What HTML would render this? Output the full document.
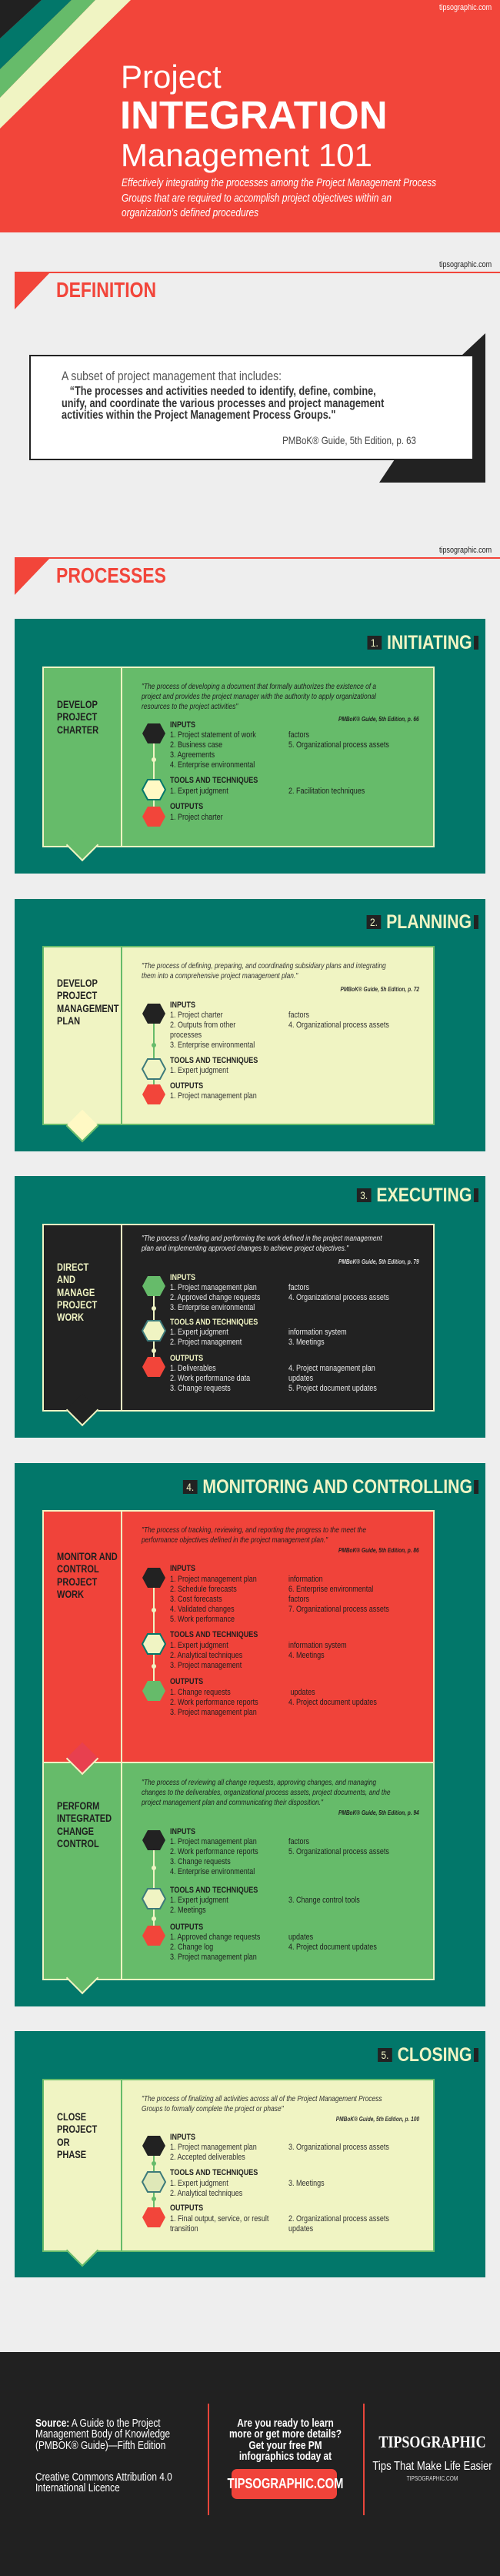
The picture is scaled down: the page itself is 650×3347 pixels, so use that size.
<!DOCTYPE html>
<html><head><meta charset="utf-8">
<style>
*{box-sizing:border-box;margin:0;padding:0}
body{width:650px;height:3347px;background:#eeeeee;position:relative;overflow:hidden;font-family:"Liberation Sans Narrow","Liberation Sans",sans-serif}
.a{position:absolute;white-space:nowrap}
.s{transform:scaleX(.82);transform-origin:0 0}
.sr{transform:scaleX(.82);transform-origin:100% 0}
.sc{transform:scaleX(.82);transform-origin:50% 0}
.teal{position:absolute;left:19px;width:612px;background:#02776a}
.card{position:absolute;left:55px;width:510px;border:2px solid #f0f4c3}
.div{position:absolute;left:157px;width:2px}
.ttl{position:absolute;right:28px;display:flex;align-items:center;height:24px;transform:scaleX(.85);transform-origin:100% 0}
.ttl .n{background:#222;color:#f0f4c3;font-size:14px;width:22px;height:18px;line-height:18px;text-align:center;margin-right:8px}
.ttl .t{color:#f0f4c3;font-weight:bold;font-size:25px;line-height:24px}
.ttl .b{width:7px;height:18px;background:#222;margin-left:3px}
.q{font-style:italic;font-size:10.5px;line-height:13px;transform:scaleX(.8);transform-origin:0 0}
.c{font-style:italic;font-size:8px;font-weight:bold;right:105px;transform:scaleX(.82);transform-origin:100% 0}
.lt{left:74px;font-weight:bold;font-size:13.5px;line-height:16.3px;transform:scaleX(.82);transform-origin:0 0}
.lb{left:221px;font-weight:bold;font-size:11px;line-height:13px;transform:scaleX(.82);transform-origin:0 0}
.it{left:221px;font-size:11px;line-height:13px;transform:scaleX(.82);transform-origin:0 0}
.it2{left:375px;font-size:11px;line-height:13px;transform:scaleX(.82);transform-origin:0 0}
.ptr{position:absolute;width:30px;height:30px;transform:rotate(45deg)}
.ln{position:absolute;left:199px;width:2px}
.dot{position:absolute;left:197px;width:6px;height:6px;border-radius:3px}
</style></head><body>

<!-- HEADER -->
<div class="a" style="left:0;top:0;width:650px;height:302px;background:#f2453a"></div>
<svg class="a" style="left:0;top:0" width="180" height="180">
<polygon points="0,0 54,0 0,50" fill="#212121"/>
<polygon points="54,0 93,0 0,90 0,50" fill="#02776a"/>
<polygon points="93,0 124,0 0,127 0,90" fill="#66bb6a"/>
<polygon points="124,0 170,0 0,167 0,127" fill="#f0f4c3"/>
</svg>
<div class="a sr" style="right:11px;top:4px;color:#fff;font-size:11px">tipsographic.com</div>
<div class="a" style="left:157px;top:78px;color:#fff;font-family:'Liberation Sans',sans-serif;font-size:42px;line-height:44px">Project</div>
<div class="a" style="left:156px;top:124px;color:#fff;font-family:'Liberation Sans',sans-serif;font-weight:bold;font-size:51px;line-height:52px">INTEGRATION</div>
<div class="a" style="left:157px;top:180px;color:#fff;font-family:'Liberation Sans',sans-serif;font-size:42px;line-height:44px">Management 101</div>
<div class="a s" style="left:158px;top:229px;color:#fff;font-style:italic;font-size:14.5px;line-height:19.5px">Effectively integrating the processes among the Project Management Process<br>Groups that are required to accomplish project objectives within an<br>organization's defined procedures</div>

<!-- DEFINITION -->
<div class="a sr" style="right:11px;top:338px;color:#222;font-size:11px">tipsographic.com</div>
<div class="a" style="left:19px;top:353px;width:631px;height:2px;background:#f2453a"></div>
<svg class="a" style="left:19px;top:353px" width="50" height="50"><polygon points="0,0 47,0 0,49" fill="#f2453a"/></svg>
<div class="a s" style="left:73px;top:362px;color:#f2453a;font-weight:bold;font-size:28px;line-height:30px">DEFINITION</div>
<svg class="a" style="left:480px;top:430px" width="160" height="200"><polygon points="120,32 151,3 151,197 13,197 33,167" fill="#222"/></svg>
<div class="a" style="left:38px;top:461px;width:578px;height:137px;background:#fff;border:2px solid #222"></div>
<div class="a s" style="left:80px;top:479px;color:#555;font-size:17px;line-height:20px">A subset of project management that includes:</div>
<div class="a s" style="left:80px;top:501px;color:#333;font-weight:bold;font-size:15.5px;line-height:15.7px">&nbsp;&nbsp;&nbsp;“The processes and activities needed to identify, define, combine,<br>unify, and coordinate the various processes and project management<br>activities within the Project Management Process Groups."</div>
<div class="a sr" style="right:109px;top:564px;color:#444;font-size:14px">PMBoK® Guide, 5th Edition, p. 63</div>

<!-- PROCESSES -->
<div class="a sr" style="right:11px;top:709px;color:#222;font-size:11px">tipsographic.com</div>
<div class="a" style="left:19px;top:724px;width:631px;height:2px;background:#f2453a"></div>
<svg class="a" style="left:19px;top:724px" width="50" height="50"><polygon points="0,0 47,0 0,49" fill="#f2453a"/></svg>
<div class="a s" style="left:73px;top:733px;color:#f2453a;font-weight:bold;font-size:28px;line-height:30px">PROCESSES</div>

<!-- 1 INITIATING -->
<div class="teal" style="top:804px;height:331px"></div>
<div class="ttl" style="top:823px"><span class="n">1.</span><span class="t">INITIATING</span><span class="b"></span></div>
<div class="card" style="top:866px;height:235px;background:#66bb6a"></div>
<div class="div" style="top:866px;height:235px;background:#f0f4c3"></div>
<div class="ptr" style="left:92px;top:1083px;background:#66bb6a;border-right:2px solid #f0f4c3;border-bottom:2px solid #f0f4c3"></div>
<div class="a lt" style="top:908px;color:#1e1e1e">DEVELOP<br>PROJECT<br>CHARTER</div>
<div class="a q" style="left:184px;top:886px;color:#1e1e1e">"The  process of developing a document that formally authorizes the existence of a<br>project and provides the project manager with the authority to apply organizational<br>resources to the project activities"</div>
<div class="a c" style="top:930px;color:#1e1e1e">PMBoK® Guide, 5th Edition, p. 66</div>
<div class="ln" style="top:953px;height:108px;background:#f0f4c3"></div>
<div class="dot" style="top:984px;background:#f0f4c3"></div>
<svg class="a" style="left:184px;top:939px" width="32" height="28"><polygon points="8,1 24,1 31,14 24,27 8,27 1,14" fill="#222"/></svg>
<svg class="a" style="left:184px;top:1012px" width="32" height="28"><polygon points="8,1 24,1 31,14 24,27 8,27 1,14" fill="#fff9c4" stroke="#02776a" stroke-width="2"/></svg>
<svg class="a" style="left:184px;top:1047px" width="32" height="28"><polygon points="8,1 24,1 31,14 24,27 8,27 1,14" fill="#f2453a"/></svg>
<div class="a lb" style="top:936px;color:#1e1e1e">INPUTS</div>
<div class="a it" style="top:949px;color:#1e1e1e">1. Project statement of work<br>2. Business case<br>3. Agreements<br>4. Enterprise environmental</div>
<div class="a it2" style="top:949px;color:#1e1e1e">factors<br>5. Organizational process assets</div>
<div class="a lb" style="top:1008px;color:#1e1e1e">TOOLS AND TECHNIQUES</div>
<div class="a it" style="top:1022px;color:#1e1e1e">1. Expert judgment</div>
<div class="a it2" style="top:1022px;color:#1e1e1e">2. Facilitation techniques</div>
<div class="a lb" style="top:1042px;color:#1e1e1e">OUTPUTS</div>
<div class="a it" style="top:1056px;color:#1e1e1e">1. Project charter</div>

<!-- 2 PLANNING -->
<div class="teal" style="top:1168px;height:328px"></div>
<div class="ttl" style="top:1186px"><span class="n">2.</span><span class="t">PLANNING</span><span class="b"></span></div>
<div class="card" style="top:1229px;height:233px;background:#f0f4c3;border-color:#66bb6a"></div>
<div class="div" style="top:1229px;height:233px;background:#66bb6a"></div>
<div class="ptr" style="left:92px;top:1448px;background:#fff9c4;border-right:2px solid #66bb6a;border-bottom:2px solid #66bb6a"></div>
<div class="a lt" style="top:1270px;color:#222">DEVELOP<br>PROJECT<br>MANAGEMENT<br>PLAN</div>
<div class="a q" style="left:184px;top:1249px;color:#333">"The process of defining, preparing, and coordinating subsidiary plans and integrating<br>them into a comprehensive project management plan."</div>
<div class="a c" style="top:1281px;color:#333">PMBoK® Guide, 5h Edition, p. 72</div>
<div class="ln" style="top:1317px;height:105px;background:#66bb6a"></div>
<div class="dot" style="top:1355px;background:#66bb6a"></div>
<svg class="a" style="left:184px;top:1303px" width="32" height="28"><polygon points="8,1 24,1 31,14 24,27 8,27 1,14" fill="#222"/></svg>
<svg class="a" style="left:184px;top:1375px" width="32" height="28"><polygon points="8,1 24,1 31,14 24,27 8,27 1,14" fill="#f0f4c3" stroke="#3d7a7a" stroke-width="2"/></svg>
<svg class="a" style="left:184px;top:1408px" width="32" height="28"><polygon points="8,1 24,1 31,14 24,27 8,27 1,14" fill="#f2453a"/></svg>
<div class="a lb" style="top:1300px;color:#222">INPUTS</div>
<div class="a it" style="top:1313px;color:#333">1. Project charter<br>2. Outputs from other<br>processes<br>3. Enterprise environmental</div>
<div class="a it2" style="top:1313px;color:#333">factors<br>4. Organizational process assets</div>
<div class="a lb" style="top:1372px;color:#222">TOOLS AND TECHNIQUES</div>
<div class="a it" style="top:1385px;color:#333">1. Expert judgment</div>
<div class="a lb" style="top:1405px;color:#222">OUTPUTS</div>
<div class="a it" style="top:1418px;color:#333">1. Project management plan</div>

<!-- 3 EXECUTING -->
<div class="teal" style="top:1528px;height:340px"></div>
<div class="ttl" style="top:1541px"><span class="n">3.</span><span class="t">EXECUTING</span><span class="b"></span></div>
<div class="card" style="top:1590px;height:244px;background:#222"></div>
<div class="div" style="top:1590px;height:244px;background:#f0f4c3"></div>
<div class="ptr" style="left:92px;top:1817px;background:#222;border-right:2px solid #f0f4c3;border-bottom:2px solid #f0f4c3"></div>
<div class="a lt" style="top:1639px;color:#f0f4c3">DIRECT<br>AND<br>MANAGE<br>PROJECT<br>WORK</div>
<div class="a q" style="left:184px;top:1603px;color:#eee">"The process of leading and performing the work defined in the project management<br>plan and implementing approved changes to achieve project objectives."</div>
<div class="a c" style="top:1635px;color:#ddd">PMBoK® Guide, 5th Edition, p. 79</div>
<div class="ln" style="top:1671px;height:105px;background:#f0f4c3"></div>
<div class="dot" style="top:1697px;background:#f0f4c3"></div>
<div class="dot" style="top:1752px;background:#f0f4c3"></div>
<svg class="a" style="left:184px;top:1657px" width="32" height="28"><polygon points="8,1 24,1 31,14 24,27 8,27 1,14" fill="#66bb6a"/></svg>
<svg class="a" style="left:184px;top:1715px" width="32" height="28"><polygon points="8,1 24,1 31,14 24,27 8,27 1,14" fill="#f0f4c3" stroke="#3d7a7a" stroke-width="2"/></svg>
<svg class="a" style="left:184px;top:1762px" width="32" height="28"><polygon points="8,1 24,1 31,14 24,27 8,27 1,14" fill="#f2453a"/></svg>
<div class="a lb" style="top:1654px;color:#f0f4c3">INPUTS</div>
<div class="a it" style="top:1667px;color:#e8e8e8">1. Project management plan<br>2. Approved change requests<br>3. Enterprise environmental</div>
<div class="a it2" style="top:1667px;color:#e8e8e8">factors<br>4. Organizational process assets</div>
<div class="a lb" style="top:1712px;color:#f0f4c3">TOOLS AND TECHNIQUES</div>
<div class="a it" style="top:1725px;color:#e8e8e8">1. Expert judgment<br>2. Project management</div>
<div class="a it2" style="top:1725px;color:#e8e8e8">information system<br>3. Meetings</div>
<div class="a lb" style="top:1759px;color:#f0f4c3">OUTPUTS</div>
<div class="a it" style="top:1772px;color:#e8e8e8">1. Deliverables<br>2. Work performance data<br>3. Change requests</div>
<div class="a it2" style="top:1772px;color:#e8e8e8">4. Project management plan<br>updates<br>5. Project document updates</div>

<!-- 4 MONITORING -->
<div class="teal" style="top:1901px;height:706px"></div>
<div class="ttl" style="top:1920px"><span class="n">4.</span><span class="t">MONITORING AND CONTROLLING</span><span class="b"></span></div>
<div class="card" style="top:1962px;height:329px;background:#f0433a"></div>
<div class="div" style="top:1962px;height:329px;background:#f0f4c3"></div>
<div class="card" style="top:2289px;height:284px;background:#66bb6a"></div>
<div class="div" style="top:2289px;height:284px;background:#f0f4c3"></div>
<div class="ptr" style="left:92px;top:2270px;background:#e8404f;border-right:2px solid #f0f4c3;border-bottom:2px solid #f0f4c3"></div>
<div class="ptr" style="left:92px;top:2555px;background:#66bb6a;border-right:2px solid #f0f4c3;border-bottom:2px solid #f0f4c3"></div>

<div class="a lt" style="top:2015px;color:#1e1e1e">MONITOR AND<br>CONTROL<br>PROJECT<br>WORK</div>
<div class="a q" style="left:184px;top:1982px;color:#1e1e1e">"The process of tracking, reviewing, and reporting the progress to the meet the<br>performance objectives defined in the project management plan."</div>
<div class="a c" style="top:2010px;color:#1e1e1e">PMBoK® Guide, 5th Edition, p. 86</div>
<div class="ln" style="top:2050px;height:147px;background:#f0f4c3"></div>
<div class="dot" style="top:2089px;background:#f0f4c3"></div>
<div class="dot" style="top:2162px;background:#f0f4c3"></div>
<svg class="a" style="left:184px;top:2036px" width="32" height="28"><polygon points="8,1 24,1 31,14 24,27 8,27 1,14" fill="#222"/></svg>
<svg class="a" style="left:184px;top:2122px" width="32" height="28"><polygon points="8,1 24,1 31,14 24,27 8,27 1,14" fill="#f0f4c3" stroke="#02776a" stroke-width="2"/></svg>
<svg class="a" style="left:184px;top:2183px" width="32" height="28"><polygon points="8,1 24,1 31,14 24,27 8,27 1,14" fill="#66bb6a"/></svg>
<div class="a lb" style="top:2032px;color:#1e1e1e">INPUTS</div>
<div class="a it" style="top:2046px;color:#1e1e1e">1. Project management plan<br>2. Schedule forecasts<br>3. Cost forecasts<br>4. Validated changes<br>5. Work performance</div>
<div class="a it2" style="top:2046px;color:#1e1e1e">information<br>6. Enterprise environmental<br>factors<br>7. Organizational process assets</div>
<div class="a lb" style="top:2118px;color:#1e1e1e">TOOLS AND TECHNIQUES</div>
<div class="a it" style="top:2132px;color:#1e1e1e">1. Expert judgment<br>2. Analytical techniques<br>3. Project management</div>
<div class="a it2" style="top:2132px;color:#1e1e1e">information system<br>4. Meetings</div>
<div class="a lb" style="top:2179px;color:#1e1e1e">OUTPUTS</div>
<div class="a it" style="top:2193px;color:#1e1e1e">1. Change requests<br>2. Work performance reports<br>3. Project management plan</div>
<div class="a it2" style="top:2193px;color:#1e1e1e">&nbsp;updates<br>4. Project document updates</div>

<div class="a lt" style="top:2339px;color:#1e1e1e">PERFORM<br>INTEGRATED<br>CHANGE<br>CONTROL</div>
<div class="a q" style="left:184px;top:2310px;color:#1e1e1e">"The process of reviewing all change requests, approving changes, and managing<br>changes to the deliverables, organizational process assets, project documents, and the<br>project management plan and communicating their disposition."</div>
<div class="a c" style="top:2351px;color:#1e1e1e">PMBoK® Guide, 5th Edition, p. 94</div>
<div class="ln" style="top:2391px;height:124px;background:#f0f4c3"></div>
<div class="dot" style="top:2424px;background:#f0f4c3"></div>
<div class="dot" style="top:2490px;background:#f0f4c3"></div>
<svg class="a" style="left:184px;top:2377px" width="32" height="28"><polygon points="8,1 24,1 31,14 24,27 8,27 1,14" fill="#222"/></svg>
<svg class="a" style="left:184px;top:2453px" width="32" height="28"><polygon points="8,1 24,1 31,14 24,27 8,27 1,14" fill="#f0f4c3" stroke="#3d7a7a" stroke-width="2"/></svg>
<svg class="a" style="left:184px;top:2501px" width="32" height="28"><polygon points="8,1 24,1 31,14 24,27 8,27 1,14" fill="#f2453a"/></svg>
<div class="a lb" style="top:2374px;color:#1e1e1e">INPUTS</div>
<div class="a it" style="top:2387px;color:#1e1e1e">1. Project management plan<br>2. Work performance reports<br>3. Change requests<br>4. Enterprise environmental</div>
<div class="a it2" style="top:2387px;color:#1e1e1e">factors<br>5. Organizational process assets</div>
<div class="a lb" style="top:2450px;color:#1e1e1e">TOOLS AND TECHNIQUES</div>
<div class="a it" style="top:2463px;color:#1e1e1e">1. Expert judgment<br>2. Meetings</div>
<div class="a it2" style="top:2463px;color:#1e1e1e">3. Change control tools</div>
<div class="a lb" style="top:2498px;color:#1e1e1e">OUTPUTS</div>
<div class="a it" style="top:2511px;color:#1e1e1e">1. Approved change requests<br>2. Change log<br>3. Project management plan</div>
<div class="a it2" style="top:2511px;color:#1e1e1e">updates<br>4. Project document updates</div>

<!-- 5 CLOSING -->
<div class="teal" style="top:2639px;height:320px"></div>
<div class="ttl" style="top:2658px"><span class="n">5.</span><span class="t">CLOSING</span><span class="b"></span></div>
<div class="card" style="top:2701px;height:225px;background:#f0f4c3;border-color:#66bb6a"></div>
<div class="div" style="top:2701px;height:225px;background:#66bb6a"></div>
<div class="ptr" style="left:92px;top:2909px;background:#f0f4c3;border-right:2px solid #66bb6a;border-bottom:2px solid #66bb6a"></div>
<div class="a lt" style="top:2743px;color:#222">CLOSE<br>PROJECT<br>OR<br>PHASE</div>
<div class="a q" style="left:184px;top:2721px;color:#333">"The process of finalizing all activities across all of the Project Management Process<br>Groups to formally complete the project or phase"</div>
<div class="a c" style="top:2749px;color:#333">PMBoK® Guide, 5th Edition, p. 100</div>
<div class="ln" style="top:2788px;height:93px;background:#66bb6a"></div>
<div class="dot" style="top:2808px;background:#66bb6a"></div>
<div class="dot" style="top:2854px;background:#66bb6a"></div>
<svg class="a" style="left:184px;top:2774px" width="32" height="28"><polygon points="8,1 24,1 31,14 24,27 8,27 1,14" fill="#222"/></svg>
<svg class="a" style="left:184px;top:2821px" width="32" height="28"><polygon points="8,1 24,1 31,14 24,27 8,27 1,14" fill="#dfe8b8" stroke="#3d7a7a" stroke-width="2"/></svg>
<svg class="a" style="left:184px;top:2867px" width="32" height="28"><polygon points="8,1 24,1 31,14 24,27 8,27 1,14" fill="#f2453a"/></svg>
<div class="a lb" style="top:2771px;color:#222">INPUTS</div>
<div class="a it" style="top:2784px;color:#333">1. Project management plan<br>2. Accepted deliverables</div>
<div class="a it2" style="top:2784px;color:#333">3. Organizational process assets</div>
<div class="a lb" style="top:2817px;color:#222">TOOLS AND TECHNIQUES</div>
<div class="a it" style="top:2831px;color:#333">1. Expert judgment<br>2. Analytical techniques</div>
<div class="a it2" style="top:2831px;color:#333">3. Meetings</div>
<div class="a lb" style="top:2863px;color:#222">OUTPUTS</div>
<div class="a it" style="top:2877px;color:#333">1. Final output, service, or result<br>transition</div>
<div class="a it2" style="top:2877px;color:#333">2. Organizational process assets<br>updates</div>

<!-- FOOTER -->
<div class="a" style="left:0;top:3056px;width:650px;height:291px;background:#212121"></div>
<div class="a" style="left:270px;top:3123px;width:2px;height:145px;background:#e8453a"></div>
<div class="a" style="left:472px;top:3123px;width:2px;height:145px;background:#e8453a"></div>
<div class="a s" style="left:46px;top:3142px;color:#fff;font-size:14.5px;line-height:14.3px"><b>Source:</b> A Guide to the Project<br>Management Body of Knowledge<br>(PMBOK® Guide)—Fifth Edition</div>
<div class="a s" style="left:46px;top:3212px;color:#fff;font-size:14.5px;line-height:14.3px">Creative Commons Attribution 4.0<br>International Licence</div>
<div class="a sc" style="left:271px;width:200px;top:3142px;color:#fff;font-weight:bold;font-size:14.5px;line-height:14.3px;text-align:center">Are you ready to learn<br>more or get more details?<br>Get your free PM<br>infographics today at</div>
<div class="a" style="left:301px;top:3208px;width:137px;height:39px;background:#f0433a;border-radius:7px"></div>
<div class="a sc" style="left:271px;width:200px;top:3208px;color:#fff;font-weight:bold;font-size:18px;line-height:39px;text-align:center">TIPSOGRAPHIC.COM</div>
<div class="a sc" style="left:462px;width:200px;top:3160px;color:#fff;font-family:'Liberation Serif',serif;font-weight:bold;font-size:22px;text-align:center">TIPSOGRAPHIC</div>
<div class="a sc" style="left:462px;width:200px;top:3196px;color:#fff;font-size:16px;text-align:center">Tips That Make Life Easier</div>
<div class="a sc" style="left:462px;width:200px;top:3216px;color:#ddd;font-size:8px;text-align:center">TIPSOGRAPHIC.COM</div>
</body></html>
